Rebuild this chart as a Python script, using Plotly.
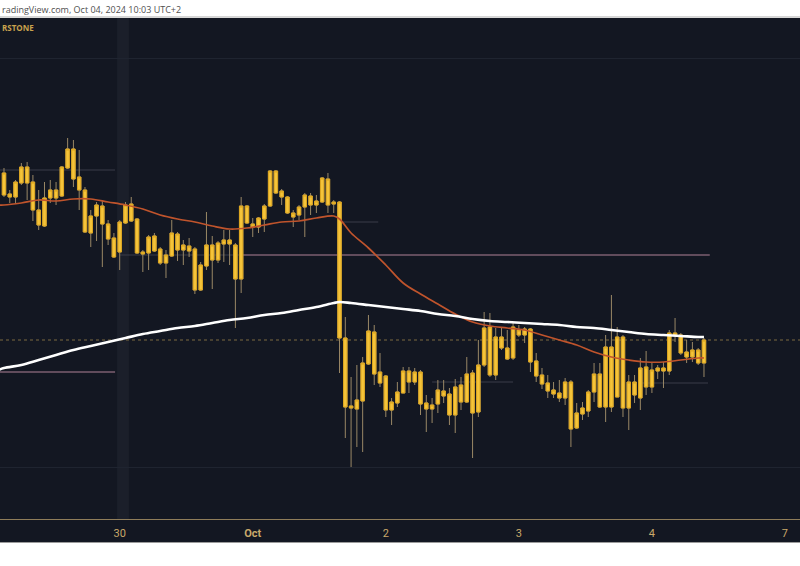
import plotly.graph_objects as go

# ---- data (hourly candles, index 0 = first visible bar) ----
opens = [2682.7, 2680.6, 2680.3, 2681.7, 2683.3, 2681.8, 2679.0, 2677.4, 2680.2, 2681.0,
         2680.4, 2683.2, 2685.1, 2682.3, 2681.0, 2676.7, 2678.4, 2679.4, 2677.6, 2676.2,
         2674.8, 2677.7, 2679.6, 2678.1, 2674.8, 2674.7, 2676.4, 2675.1, 2673.7, 2674.4,
         2676.6, 2675.0, 2675.4, 2675.1, 2671.0, 2673.4, 2675.5, 2674.0, 2675.6, 2676.0,
         2675.5, 2672.1, 2679.4, 2677.6, 2677.3, 2678.1, 2679.4, 2682.9, 2680.9, 2680.3,
         2678.7, 2678.5, 2679.3, 2680.4, 2679.5, 2679.8, 2682.1, 2679.6, 2679.8, 2666.2,
         2659.4, 2659.1, 2659.9, 2663.6, 2666.8, 2662.8, 2662.4, 2659.0, 2659.7, 2660.7,
         2662.9, 2661.8, 2662.8, 2659.7, 2659.1, 2659.6, 2660.9, 2660.6, 2658.5, 2661.5,
         2659.8, 2662.7, 2658.8, 2663.5, 2667.3, 2662.5, 2666.3, 2665.2, 2664.2, 2667.0,
         2666.5, 2667.1, 2663.9, 2662.5, 2661.7, 2661.0, 2660.7, 2660.2, 2661.8, 2657.2,
         2658.6, 2658.9, 2660.8, 2662.6, 2659.3, 2665.3, 2660.3, 2666.3, 2659.2, 2661.8,
         2660.2, 2663.3, 2661.3, 2662.9, 2663.2, 2662.9, 2666.7, 2666.5, 2664.8, 2664.3,
         2665.0, 2663.7]
highs = [2683.2, 2681.0, 2682.0, 2683.7, 2683.8, 2682.5, 2681.0, 2681.8, 2682.0, 2681.8,
         2683.4, 2686.2, 2686.0, 2685.0, 2681.3, 2679.0, 2679.8, 2680.0, 2678.0, 2676.7,
         2678.0, 2679.8, 2680.3, 2678.2, 2675.0, 2676.5, 2676.7, 2675.3, 2675.0, 2678.0,
         2676.8, 2676.0, 2676.2, 2675.3, 2673.8, 2678.8, 2676.4, 2675.9, 2677.0, 2677.0,
         2675.7, 2680.3, 2679.5, 2678.2, 2678.3, 2679.6, 2683.0, 2683.0, 2681.1, 2680.4,
         2679.0, 2679.5, 2680.7, 2680.7, 2680.5, 2682.3, 2682.7, 2680.0, 2679.9, 2668.3,
         2662.3, 2663.5, 2664.3, 2668.5, 2667.5, 2664.7, 2662.5, 2660.2, 2661.8, 2663.3,
         2663.3, 2663.2, 2663.0, 2660.5, 2660.2, 2662.0, 2662.0, 2661.2, 2662.1, 2662.3,
         2664.3, 2663.0, 2666.0, 2668.8, 2668.7, 2667.2, 2667.3, 2667.0, 2667.8, 2667.5,
         2667.3, 2667.2, 2664.7, 2663.2, 2662.5, 2661.8, 2662.0, 2662.2, 2662.0, 2659.7,
         2659.8, 2661.0, 2663.7, 2663.7, 2666.5, 2670.5, 2667.3, 2666.5, 2662.5, 2662.5,
         2664.2, 2664.9, 2663.7, 2663.5, 2663.8, 2667.0, 2668.2, 2666.7, 2666.0, 2665.8,
         2665.2, 2666.2]
lows = [2680.3, 2679.7, 2679.7, 2681.5, 2680.0, 2677.9, 2677.0, 2677.3, 2679.7, 2679.5,
        2680.3, 2683.1, 2681.3, 2679.0, 2676.7, 2675.3, 2675.9, 2673.3, 2675.5, 2674.2,
        2673.0, 2677.6, 2677.8, 2674.6, 2672.8, 2673.0, 2674.8, 2673.5, 2672.2, 2674.3,
        2673.9, 2673.5, 2674.3, 2670.6, 2670.9, 2673.0, 2671.1, 2673.7, 2673.8, 2673.5,
        2667.2, 2670.7, 2677.6, 2676.3, 2676.7, 2676.8, 2679.3, 2680.6, 2679.5, 2678.6,
        2677.3, 2678.0, 2676.3, 2678.5, 2678.7, 2679.7, 2678.7, 2678.7, 2662.7, 2656.2,
        2653.3, 2655.3, 2654.8, 2663.5, 2661.5, 2661.3, 2658.3, 2657.5, 2659.3, 2660.7,
        2660.7, 2661.5, 2658.5, 2656.8, 2657.7, 2658.7, 2659.7, 2657.5, 2656.7, 2659.0,
        2659.7, 2654.2, 2658.3, 2663.3, 2662.3, 2662.0, 2665.0, 2664.0, 2664.0, 2666.3,
        2665.7, 2662.8, 2661.8, 2661.1, 2660.2, 2660.2, 2659.8, 2659.5, 2655.3, 2657.1,
        2658.0, 2658.3, 2659.8, 2659.2, 2657.8, 2658.8, 2660.3, 2658.3, 2657.0, 2659.7,
        2659.0, 2660.5, 2660.7, 2662.1, 2661.2, 2662.5, 2665.8, 2664.5, 2663.7, 2663.8,
        2663.5, 2662.3]
closes = [2680.5, 2680.3, 2681.8, 2683.3, 2681.7, 2679.0, 2677.5, 2680.2, 2681.0, 2680.2,
          2683.3, 2685.1, 2682.1, 2681.0, 2676.8, 2678.4, 2679.5, 2677.6, 2676.1, 2674.3,
          2677.8, 2679.5, 2677.9, 2674.7, 2674.6, 2676.3, 2674.9, 2673.7, 2674.5, 2676.7,
          2675.0, 2675.5, 2674.9, 2671.0, 2673.5, 2675.5, 2674.0, 2675.7, 2676.0, 2675.6,
          2672.1, 2679.4, 2677.7, 2677.3, 2678.2, 2679.4, 2682.9, 2680.7, 2680.3, 2678.7,
          2678.3, 2679.3, 2680.5, 2679.5, 2679.9, 2682.2, 2679.5, 2679.8, 2666.2, 2659.3,
          2659.2, 2660.0, 2663.7, 2666.9, 2662.6, 2661.7, 2659.0, 2659.8, 2660.8, 2662.9,
          2661.8, 2662.8, 2659.6, 2659.1, 2659.5, 2661.0, 2660.4, 2658.5, 2661.3, 2659.8,
          2662.6, 2658.7, 2663.5, 2667.2, 2662.5, 2666.3, 2665.2, 2664.1, 2667.3, 2666.5,
          2667.1, 2663.8, 2662.4, 2661.6, 2660.9, 2660.6, 2660.2, 2661.8, 2657.1, 2658.7,
          2659.2, 2660.8, 2662.6, 2659.3, 2665.3, 2659.3, 2666.3, 2659.2, 2661.8, 2660.5,
          2663.2, 2661.3, 2663.0, 2663.2, 2662.9, 2666.7, 2666.5, 2664.7, 2664.3, 2665.0,
          2663.7, 2666.0]

# moving averages, read at every few bars
ma_idx = [-1, 0, 3, 6, 9, 12, 15, 18, 21, 24, 27, 30, 33, 36, 39, 42, 45, 48, 51, 54, 57, 58,
          60, 63, 66, 69, 72, 75, 78, 81, 84, 87, 90, 93, 96, 99, 102, 105, 108, 111, 114,
          117, 120, 121]
ma_fast = [2679.5, 2679.5, 2679.7, 2680.0, 2679.9, 2680.1, 2680.1, 2679.8, 2679.5, 2679.1,
           2678.5, 2678.1, 2677.8, 2677.4, 2677.1, 2677.2, 2677.5, 2677.8, 2677.9, 2678.2,
           2678.4, 2678.1, 2676.7, 2675.2, 2673.5, 2671.7, 2670.6, 2669.6, 2668.6, 2667.8,
           2667.4, 2667.2, 2667.0, 2666.5, 2666.0, 2665.5, 2664.8, 2664.3, 2664.0, 2663.8,
           2663.8, 2664.0, 2664.2, 2664.2]
ma_slow = [2663.0, 2663.2, 2663.5, 2664.0, 2664.5, 2665.0, 2665.4, 2665.8, 2666.2, 2666.6,
           2666.9, 2667.2, 2667.4, 2667.7, 2668.0, 2668.2, 2668.5, 2668.7, 2669.0, 2669.3,
           2669.7, 2669.8, 2669.7, 2669.5, 2669.3, 2669.1, 2668.9, 2668.6, 2668.4, 2668.1,
           2667.9, 2667.8, 2667.7, 2667.6, 2667.5, 2667.3, 2667.2, 2667.0, 2666.8, 2666.6,
           2666.5, 2666.4, 2666.3, 2666.3]

# day ticks (bar index of first bar of each day)
tick_idx = [20, 43, 66, 89, 112, 135]
tick_labels = ["30", "<b>Oct</b>", "2", "3", "4", "7"]

# horizontal levels: price, start bar, end bar
level_price = [2674.5, 2674.5, 2662.8, 2683.0, 2677.8, 2661.8, 2661.7]
level_start = [20, 41, -1, -1, 58, 74, 110]
level_end = [41, 122, 19.2, 19.2, 64.7, 88, 121.7]
level_kind = ["grey", "pink", "pink", "grey", "grey", "grey", "grey"]

x = list(range(len(opens)))
body_hi = [max(o, c) for o, c in zip(opens, closes)]
body_lo = [min(o, c) for o, c in zip(opens, closes)]

BG = "#131722"
WICK = "#9a8866"
BODY = "#f5c43a"
BODY_EDGE = "#dca51f"

fig = go.Figure()
fig.add_trace(go.Candlestick(
    x=x, open=opens, high=highs, low=lows, close=closes,
    increasing=dict(line=dict(color=WICK, width=1), fillcolor=WICK),
    decreasing=dict(line=dict(color=WICK, width=1), fillcolor=WICK),
    hoverinfo="skip", showlegend=False))
fig.add_trace(go.Candlestick(
    x=x, open=body_lo, high=body_hi, low=body_lo, close=body_hi,
    increasing=dict(line=dict(color=BODY_EDGE, width=1), fillcolor=BODY),
    decreasing=dict(line=dict(color=BODY_EDGE, width=1), fillcolor=BODY),
    hoverinfo="skip", showlegend=False))
fig.add_trace(go.Scatter(x=ma_idx, y=ma_fast, mode="lines",
                         line=dict(color="#c0542c", width=1.7, shape="spline"),
                         hoverinfo="skip", showlegend=False))
fig.add_trace(go.Scatter(x=ma_idx, y=ma_slow, mode="lines",
                         line=dict(color="#ffffff", width=2.6, shape="spline"),
                         hoverinfo="skip", showlegend=False))

shapes = []
# session highlight stripe
shapes.append(dict(type="rect", xref="x", yref="paper", x0=19.55, x1=21.6, y0=0, y1=1,
                   fillcolor="#1b1f2a", line=dict(width=0), layer="below"))
# levels
for p, s, e, k in zip(level_price, level_start, level_end, level_kind):
    col = "#7d5f70" if k == "pink" else "#3a3c48"
    shapes.append(dict(type="line", xref="x", yref="y", x0=s, x1=e, y0=p, y1=p,
                       line=dict(color=col, width=1.5 if k == "pink" else 1), layer="below"))
# last price dotted line
shapes.append(dict(type="line", xref="paper", yref="y", x0=0, x1=1,
                   y0=closes[-1], y1=closes[-1],
                   line=dict(color="#7d6a40", width=1, dash="dot"), layer="below"))
# bottom time-axis band and frame lines
shapes.append(dict(type="rect", xref="paper", yref="paper", x0=0, x1=1, y0=-0.0459, y1=0,
                   fillcolor=BG, line=dict(width=0), layer="below"))
shapes.append(dict(type="line", xref="paper", yref="paper", x0=0, x1=1, y0=-0.0469, y1=-0.0469,
                   line=dict(color="#9a9a9a", width=1)))
shapes.append(dict(type="line", xref="paper", yref="paper", x0=0, x1=1, y0=1.002, y1=1.002,
                   line=dict(color="#b0b0b0", width=1)))

fig.update_layout(
    width=800, height=566,
    margin=dict(l=0, r=0, t=18, b=47),
    paper_bgcolor="#ffffff", plot_bgcolor=BG,
    boxgap=0.15,
    shapes=shapes,
    xaxis=dict(range=[-0.69, 137.6], rangeslider=dict(visible=False),
               tickvals=tick_idx, ticktext=tick_labels, showgrid=False, zeroline=False,
               showline=True, linecolor="#8f7d5a", linewidth=1, ticks="",
               ticklabelstandoff=4,
               tickfont=dict(color="#c9a96a", size=11, family="Liberation Sans Narrow, Roboto, sans-serif")),
    yaxis=dict(range=[2648.1, 2698.2], tickvals=[2694.2, 2653.3], showticklabels=False,
               gridcolor="#1f2430", gridwidth=1, zeroline=False, showline=False, ticks=""),
    annotations=[
        dict(text="radingView.com, Oct 04, 2024 10:03 UTC+2", xref="paper", yref="paper",
             x=0, y=1.016, xanchor="left", yanchor="middle", showarrow=False,
             font=dict(size=9, color="#505050", family="Open Sans, sans-serif")),
        dict(text="<b>RSTONE</b>", xref="paper", yref="paper",
             x=0, y=0.982, xanchor="left", yanchor="middle", showarrow=False,
             font=dict(size=8, color="#c9a24e", family="Open Sans, sans-serif")),
    ],
)

fig.write_html("out.html", config={"displayModeBar": False},
               post_script="document.body.style.margin='0';document.body.style.overflow='hidden';")
